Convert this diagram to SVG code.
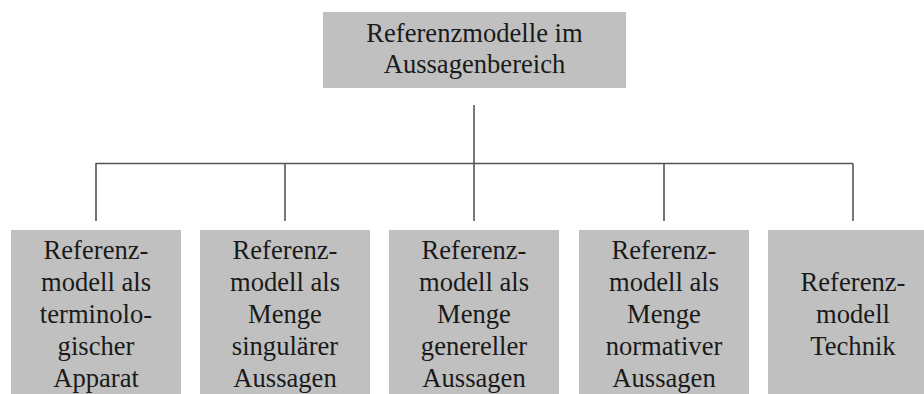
<svg xmlns="http://www.w3.org/2000/svg" width="924" height="394" viewBox="0 0 924 394">
  <style>
    .box { fill: #c0c0c0; }
    .lbl { font-family: "Liberation Serif", "Times New Roman", serif; font-size: 26.6px; fill: #1a1a1a; text-anchor: middle; }
    .link { stroke: #555555; stroke-width: 1.6; fill: none; }
  </style>
  <rect width="924" height="394" fill="#ffffff"/>

  <g id="connectors">
    <line class="link" x1="474" y1="105" x2="474" y2="163.5"/>
    <line class="link" x1="95.5" y1="163.5" x2="853" y2="163.5"/>
    <line class="link" x1="96" y1="163.5" x2="96" y2="221"/>
    <line class="link" x1="285" y1="163.5" x2="285" y2="221"/>
    <line class="link" x1="474" y1="163.5" x2="474" y2="221"/>
    <line class="link" x1="664" y1="163.5" x2="664" y2="221"/>
    <line class="link" x1="853" y1="163.5" x2="853" y2="221"/>
  </g>

  <g id="root">
    <rect class="box" x="323" y="12" width="303" height="76"/>
    <text class="lbl" x="474.5" y="42.3">Referenzmodelle im</text>
    <text class="lbl" x="474.5" y="73.3">Aussagenbereich</text>
  </g>

  <g id="terminologischer-apparat">
    <rect class="box" x="11" y="230" width="170" height="164"/>
    <text class="lbl" x="96" y="259">Referenz-</text>
    <text class="lbl" x="96" y="291">modell als</text>
    <text class="lbl" x="96" y="323">terminolo-</text>
    <text class="lbl" x="96" y="355">gischer</text>
    <text class="lbl" x="96" y="387">Apparat</text>
  </g>

  <g id="singulaere-aussagen">
    <rect class="box" x="200" y="230" width="170" height="164"/>
    <text class="lbl" x="285" y="259">Referenz-</text>
    <text class="lbl" x="285" y="291">modell als</text>
    <text class="lbl" x="285" y="323">Menge</text>
    <text class="lbl" x="285" y="355">singulärer</text>
    <text class="lbl" x="285" y="387">Aussagen</text>
  </g>

  <g id="generelle-aussagen">
    <rect class="box" x="389" y="230" width="170" height="164"/>
    <text class="lbl" x="474" y="259">Referenz-</text>
    <text class="lbl" x="474" y="291">modell als</text>
    <text class="lbl" x="474" y="323">Menge</text>
    <text class="lbl" x="474" y="355">genereller</text>
    <text class="lbl" x="474" y="387">Aussagen</text>
  </g>

  <g id="normative-aussagen">
    <rect class="box" x="579" y="230" width="170" height="164"/>
    <text class="lbl" x="664" y="259">Referenz-</text>
    <text class="lbl" x="664" y="291">modell als</text>
    <text class="lbl" x="664" y="323">Menge</text>
    <text class="lbl" x="664" y="355">normativer</text>
    <text class="lbl" x="664" y="387">Aussagen</text>
  </g>

  <g id="technik">
    <rect class="box" x="768" y="230" width="170" height="164"/>
    <text class="lbl" x="853" y="291">Referenz-</text>
    <text class="lbl" x="853" y="323">modell</text>
    <text class="lbl" x="853" y="355">Technik</text>
  </g>
</svg>
